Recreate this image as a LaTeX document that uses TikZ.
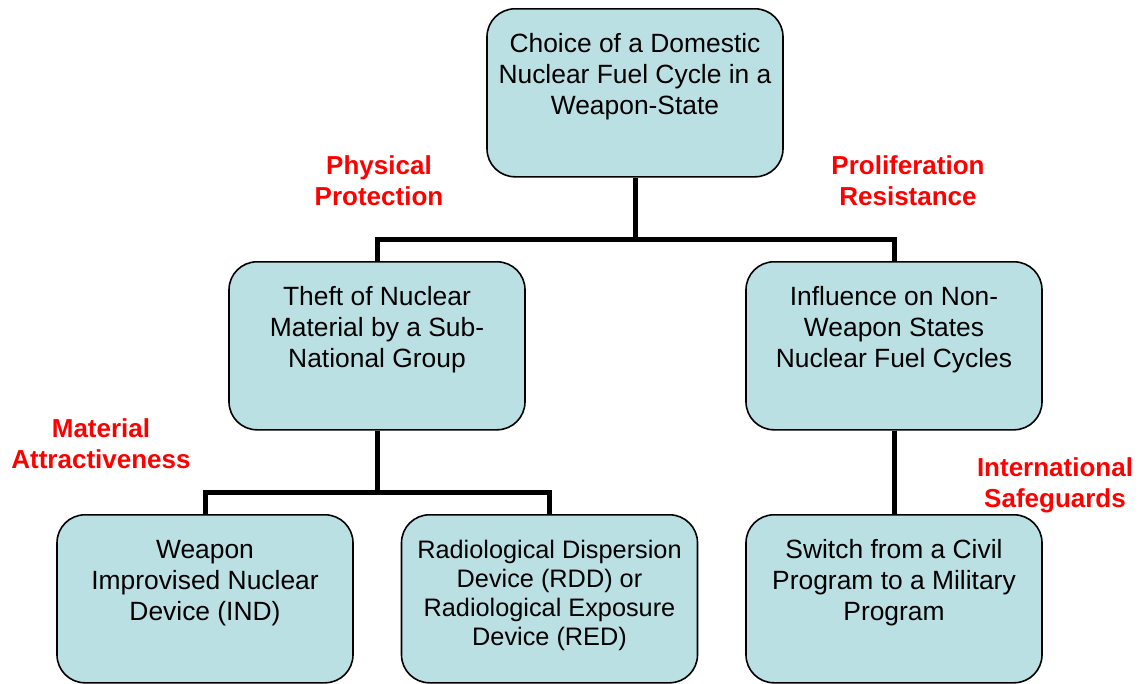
\documentclass[tikz,border=0pt]{standalone}
\usepackage{fontspec}
\setmainfont{Liberation Sans}
\usetikzlibrary{positioning,calc}
\definecolor{boxfill}{RGB}{187,224,227}
\newcommand{\boxtext}[2][44pt]{\parbox[t][168pt][t]{290pt}{\centering\rule{0pt}{#1}#2}}

\begin{document}
\begin{tikzpicture}[x=1pt,y=-1pt,
	box/.style={draw,line width=1.6pt,fill=boxfill,rounded corners=28pt,anchor=north,
		minimum width=296pt,minimum height=167pt,inner sep=0pt,
		font=\fontsize{26.4}{31}\selectfont},
	conn/.style={line width=5pt},
	lbl/.style={text=red,align=center,font=\fontsize{26}{31}\selectfont\bfseries}]

\useasboundingbox (0,0) rectangle (1141,683);

\node[box]   (top)       at (635,8)     {\boxtext{Choice of a Domestic\\Nuclear Fuel Cycle in a\\Weapon-State}};
 \node[box]  (theft)     at (377,261)   {\boxtext{Theft of Nuclear\\Material by a Sub-\\National Group}};
	\node[box] (influence) at (894,261)  {\boxtext{Influence on Non-\\Weapon States\\Nuclear Fuel Cycles}};
\node[box]   (ind)       at (205,514)   {\boxtext{Weapon\\Improvised Nuclear\\Device (IND)}};
\node[box,font=\fontsize{25.3}{29}\selectfont] (rdd) at (549.5,514)
	{\boxtext[44pt]{Radiological Dispersion\\Device (RDD) or\\Radiological Exposure\\Device (RED)}};
\node[box]   (switch)    at (894,514)   {\boxtext{Switch from a Civil\\Program to a Military\\Program}};

\node[lbl] (phys)  at (379,181)  {Physical\\Protection};
\node[lbl] (prolif) at (908,181) {Proliferation\\Resistance};
\node[lbl] (attract) at (101,444) {Material\\Attractiveness};
\node[lbl] (safeg) at (1055,485) {International\\Safeguards};

\coordinate (topbar) at ($(top.south)+(0,62)$);
\coordinate (lowbar) at ($(theft.south)+(0,62)$);

	\draw[conn] (top.south) -- (topbar);
	\draw[conn] (theft.north) |- (topbar) -| (influence.north);
	\draw[conn] (theft.south) -- (lowbar);
	\draw[conn] (ind.north) |- (lowbar) -| (rdd.north);
	\draw[conn] (influence.south) -- (switch.north);

\end{tikzpicture}
\end{document}
